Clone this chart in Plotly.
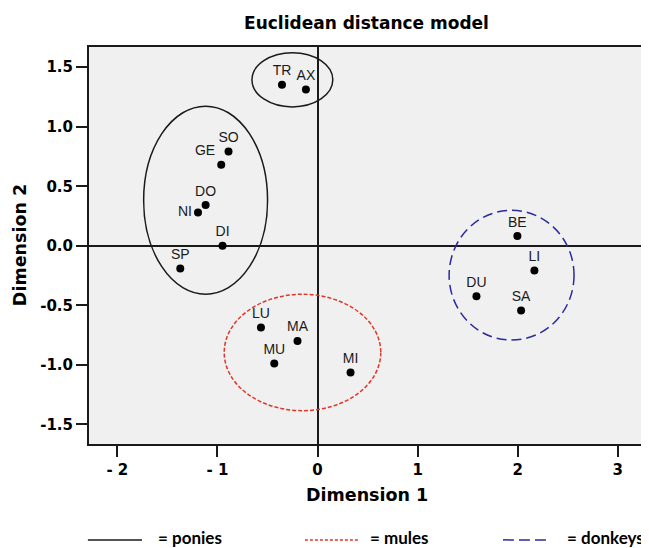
import plotly.graph_objects as go

# Data
labels = ["TR", "AX", "SO", "GE", "DO", "NI", "DI", "SP",
          "LU", "MA", "MU", "MI", "BE", "LI", "DU", "SA"]
dim1 = [-0.355, -0.116, -0.889, -0.962, -1.118, -1.194, -0.949, -1.371,
        -0.565, -0.200, -0.432, 0.330, 1.997, 2.167, 1.588, 2.034]
dim2 = [1.352, 1.313, 0.793, 0.681, 0.342, 0.279, 0.000, -0.191,
        -0.686, -0.799, -0.988, -1.064, 0.082, -0.208, -0.424, -0.544]
label_pos = ["top center", "top center", "top center", "top left", "top center",
             "middle left", "top center", "top center", "top center", "top center",
             "top center", "top center", "top center", "top center", "top center",
             "top center"]

x_ticks = [-2, -1, 0, 1, 2, 3]
x_ticktext = ["- 2", "- 1", "0", "1", "2", "3"]
y_ticks = [1.5, 1.0, 0.5, 0.0, -0.5, -1.0, -1.5]
y_ticktext = ["1.5", "1.0", "0.5", "0.0", "-0.5", "-1.0", "-1.5"]

# Group ellipses: centre x, centre y, half width, half height
ell_cx = [-1.118, -0.251, -0.150, 1.939]
ell_cy = [0.383, 1.394, -0.896, -0.247]
ell_rx = [0.619, 0.404, 0.782, 0.624]
ell_ry = [0.790, 0.227, 0.489, 0.545]
ell_color = ["#1a1a1a", "#1a1a1a", "#e0352b", "#2b2a9e"]
ell_dash = ["solid", "solid", "4px,2px", "10px,5px"]

legend_names = ["= ponies", "= mules", "= donkeys"]
legend_colors = ["#1a1a1a", "#e0352b", "#2b2a9e"]
legend_dash = ["solid", "3px,2px", "11px,5px"]

FONT = "DejaVu Sans, sans-serif"
LABEL_FONT = "Liberation Sans, Arial, sans-serif"
LEG_FONT = "Lato, sans-serif"

# the page body adds an 8px offset; the figure is sized to fit inside the window
PAGE_OFFSET = 8
W, H = 649 - PAGE_OFFSET, 548 - PAGE_OFFSET

fig = go.Figure()
fig.add_trace(go.Scatter(
    x=dim1, y=dim2, mode="markers+text", text=labels,
    textposition=label_pos,
    textfont=dict(family=LABEL_FONT, size=14, color="#1a1a1a"),
    marker=dict(size=8, color="black"),
    showlegend=False, cliponaxis=False,
))

shapes = []
for cx, cy, rx, ry, c, d in zip(ell_cx, ell_cy, ell_rx, ell_ry, ell_color, ell_dash):
    shapes.append(dict(type="circle", xref="x", yref="y",
                       x0=cx - rx, x1=cx + rx, y0=cy - ry, y1=cy + ry,
                       line=dict(color=c, width=1.5, dash=d)))

# legend samples (paper coordinates)
leg_x0 = [-0.002, 0.389, 0.7459]
leg_x1 = [0.0955, 0.4883, 0.8306]
leg_tx = [0.1207, 0.5027, 0.8577]
leg_y = -0.2415
annotations = []
for x0, x1, tx, name, c, d in zip(leg_x0, leg_x1, leg_tx, legend_names, legend_colors, legend_dash):
    shapes.append(dict(type="line", xref="paper", yref="paper",
                       x0=x0, x1=x1, y0=leg_y, y1=leg_y,
                       line=dict(color=c, width=1.5, dash=d)))
    annotations.append(dict(xref="paper", yref="paper", x=tx, y=leg_y + 0.005,
                            xanchor="left", yanchor="middle", showarrow=False,
                            text="<b>" + name + "</b>",
                            font=dict(family=LEG_FONT, size=17, color="black")))

# axis titles
annotations.append(dict(xref="paper", yref="paper", x=0.5, y=-0.128,
                        xanchor="center", yanchor="middle", showarrow=False,
                        text="<b>Dimension 1</b>",
                        font=dict(family=FONT, size=17.5, color="black")))
annotations.append(dict(xref="paper", yref="paper", x=-0.125, y=0.5,
                        xanchor="center", yanchor="middle", showarrow=False,
                        textangle=-90, text="<b>Dimension 2</b>",
                        font=dict(family=FONT, size=17.5, color="black")))

fig.update_layout(
    width=W, height=H,
    margin=dict(l=89 - PAGE_OFFSET, r=5, t=46.5 - PAGE_OFFSET, b=104, autoexpand=False),
    paper_bgcolor="white", plot_bgcolor="#f0f0f0",
    title=dict(text="<b>Euclidean distance model</b>", x=0.5, xref="paper",
               xanchor="center", y=1 - (23.3 - PAGE_OFFSET) / H, yref="container",
               yanchor="middle",
               font=dict(family=FONT, size=17, color="black")),
    shapes=shapes, annotations=annotations,
    showlegend=False,
)
fig.update_xaxes(range=[-2.283, 3.262], tickvals=x_ticks, ticktext=x_ticktext,
                 showgrid=False, zeroline=True, zerolinecolor="#1a1a1a", zerolinewidth=1.5,
                 showline=True, mirror=True, linecolor="#1a1a1a", linewidth=2,
                 ticks="outside", ticklen=11, tickcolor="#1a1a1a", tickwidth=1.5,
                 automargin=False,
                 tickfont=dict(family=FONT, size=15, color="black", weight="bold"))
fig.update_yaxes(range=[-1.665, 1.67], tickvals=y_ticks, ticktext=y_ticktext,
                 showgrid=False, zeroline=True, zerolinecolor="#1a1a1a", zerolinewidth=1.5,
                 showline=True, mirror=True, linecolor="#1a1a1a", linewidth=2,
                 ticks="outside", ticklen=11, tickcolor="#1a1a1a", tickwidth=1.5,
                 automargin=False,
                 tickfont=dict(family=FONT, size=15, color="black", weight="bold"))

fig.write_html("out.html")
